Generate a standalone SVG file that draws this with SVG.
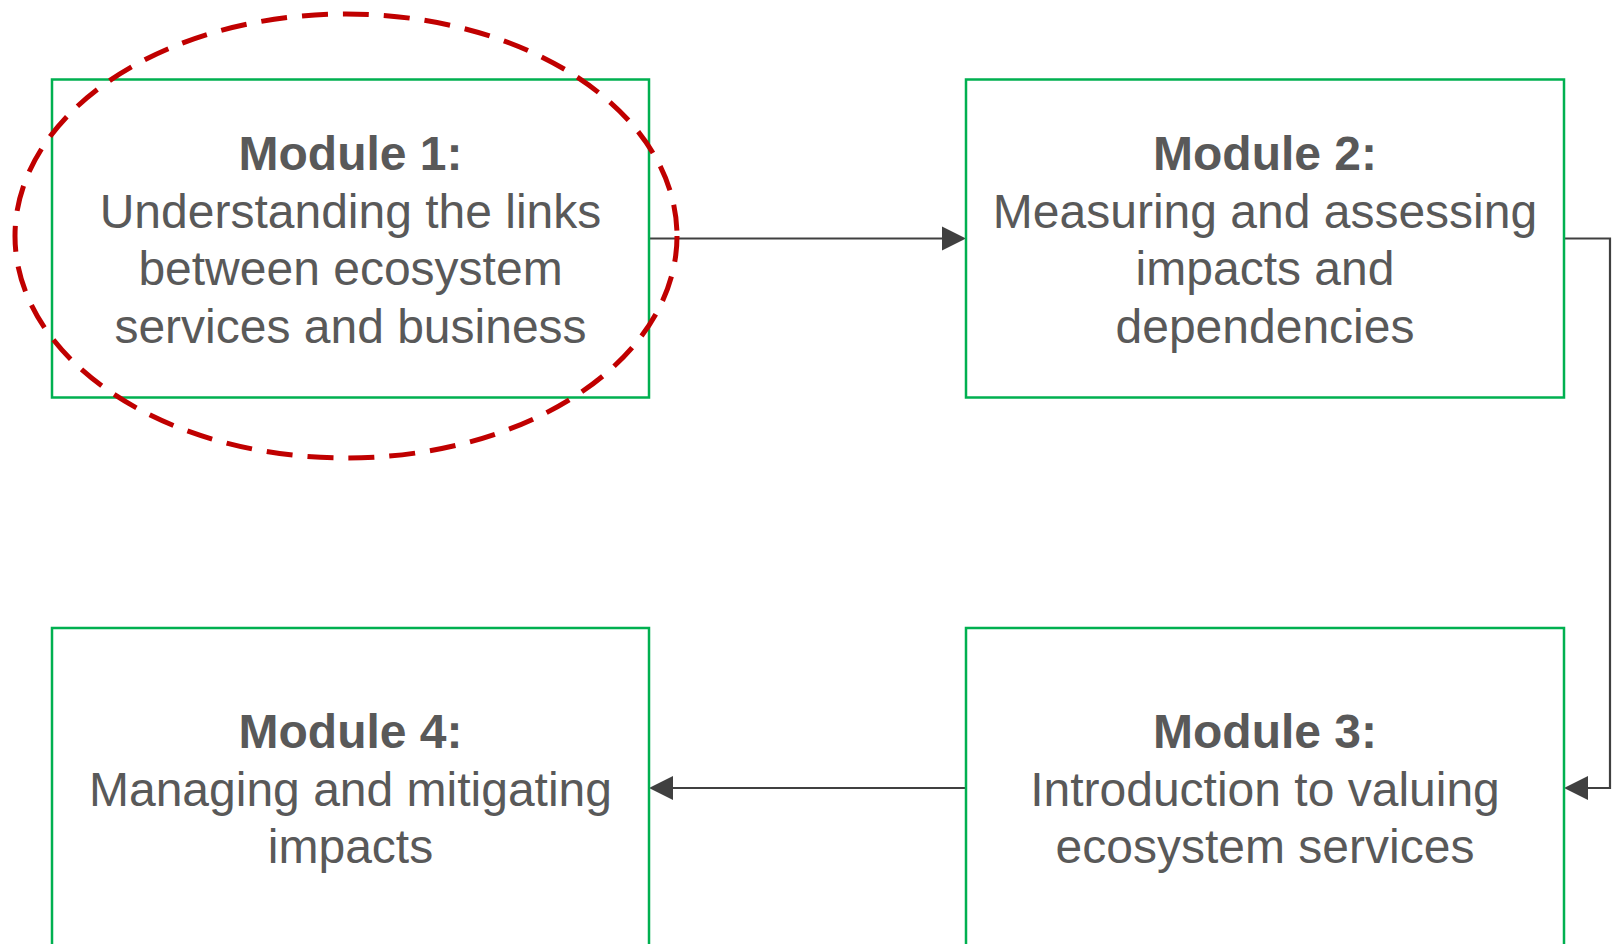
<svg xmlns="http://www.w3.org/2000/svg" width="1613" height="944" viewBox="0 0 1613 944">
  <style>
    .box { fill: #ffffff; stroke: #00B050; stroke-width: 2.5; }
    .lbl { font-family: "Liberation Sans", Arial, sans-serif; font-size: 48px; fill: #595959; text-anchor: middle; }
    .ttl { font-weight: bold; }
    .conn { fill: none; stroke: #404040; stroke-width: 2.2; }
    .focus { fill: none; stroke: #C00000; stroke-width: 5; stroke-dasharray: 26 15; }
  </style>
  <defs>
    <marker id="arrow" viewBox="0 0 10 10" refX="10" refY="5" markerWidth="10" markerHeight="10" markerUnits="userSpaceOnUse" orient="auto" overflow="visible">
      <path d="M -14 -7 L 10 5 L -14 17 Z" fill="#404040"/>
    </marker>
  </defs>
  <rect width="1613" height="944" fill="#ffffff"/>

  <g id="connectors">
    <path class="conn" d="M 649 238.5 L 944 238.5" />
    <path d="M 942 226.5 L 966 238.5 L 942 250.5 Z" fill="#404040"/>
    <path class="conn" d="M 1564 238.5 L 1610 238.5 L 1610 788 L 1586 788" />
    <path d="M 1588 776 L 1564 788 L 1588 800 Z" fill="#404040"/>
    <path class="conn" d="M 966 788 L 671 788" />
    <path d="M 673 776 L 649 788 L 673 800 Z" fill="#404040"/>
  </g>

  <g id="module1">
    <rect class="box" x="52" y="79.5" width="597" height="318"/>
    <text class="lbl ttl" x="350.5" y="170">Module 1:</text>
    <text class="lbl" x="350.5" y="227.6">Understanding the links</text>
    <text class="lbl" x="350.5" y="285.2">between ecosystem</text>
    <text class="lbl" x="350.5" y="342.8">services and business</text>
  </g>

  <g id="module2">
    <rect class="box" x="966" y="79.5" width="598" height="318"/>
    <text class="lbl ttl" x="1265" y="170">Module 2:</text>
    <text class="lbl" x="1265" y="227.6">Measuring and assessing</text>
    <text class="lbl" x="1265" y="285.2">impacts and</text>
    <text class="lbl" x="1265" y="342.8">dependencies</text>
  </g>

  <g id="module3">
    <rect class="box" x="966" y="628" width="598" height="318"/>
    <text class="lbl ttl" x="1265" y="748">Module 3:</text>
    <text class="lbl" x="1265" y="805.6">Introduction to valuing</text>
    <text class="lbl" x="1265" y="863.2">ecosystem services</text>
  </g>

  <g id="module4">
    <rect class="box" x="52" y="628" width="597" height="318"/>
    <text class="lbl ttl" x="350.5" y="748">Module 4:</text>
    <text class="lbl" x="350.5" y="805.6">Managing and mitigating</text>
    <text class="lbl" x="350.5" y="863.2">impacts</text>
  </g>

  <g id="highlight">
    <ellipse class="focus" cx="346" cy="236" rx="331" ry="222"/>
  </g>
</svg>
